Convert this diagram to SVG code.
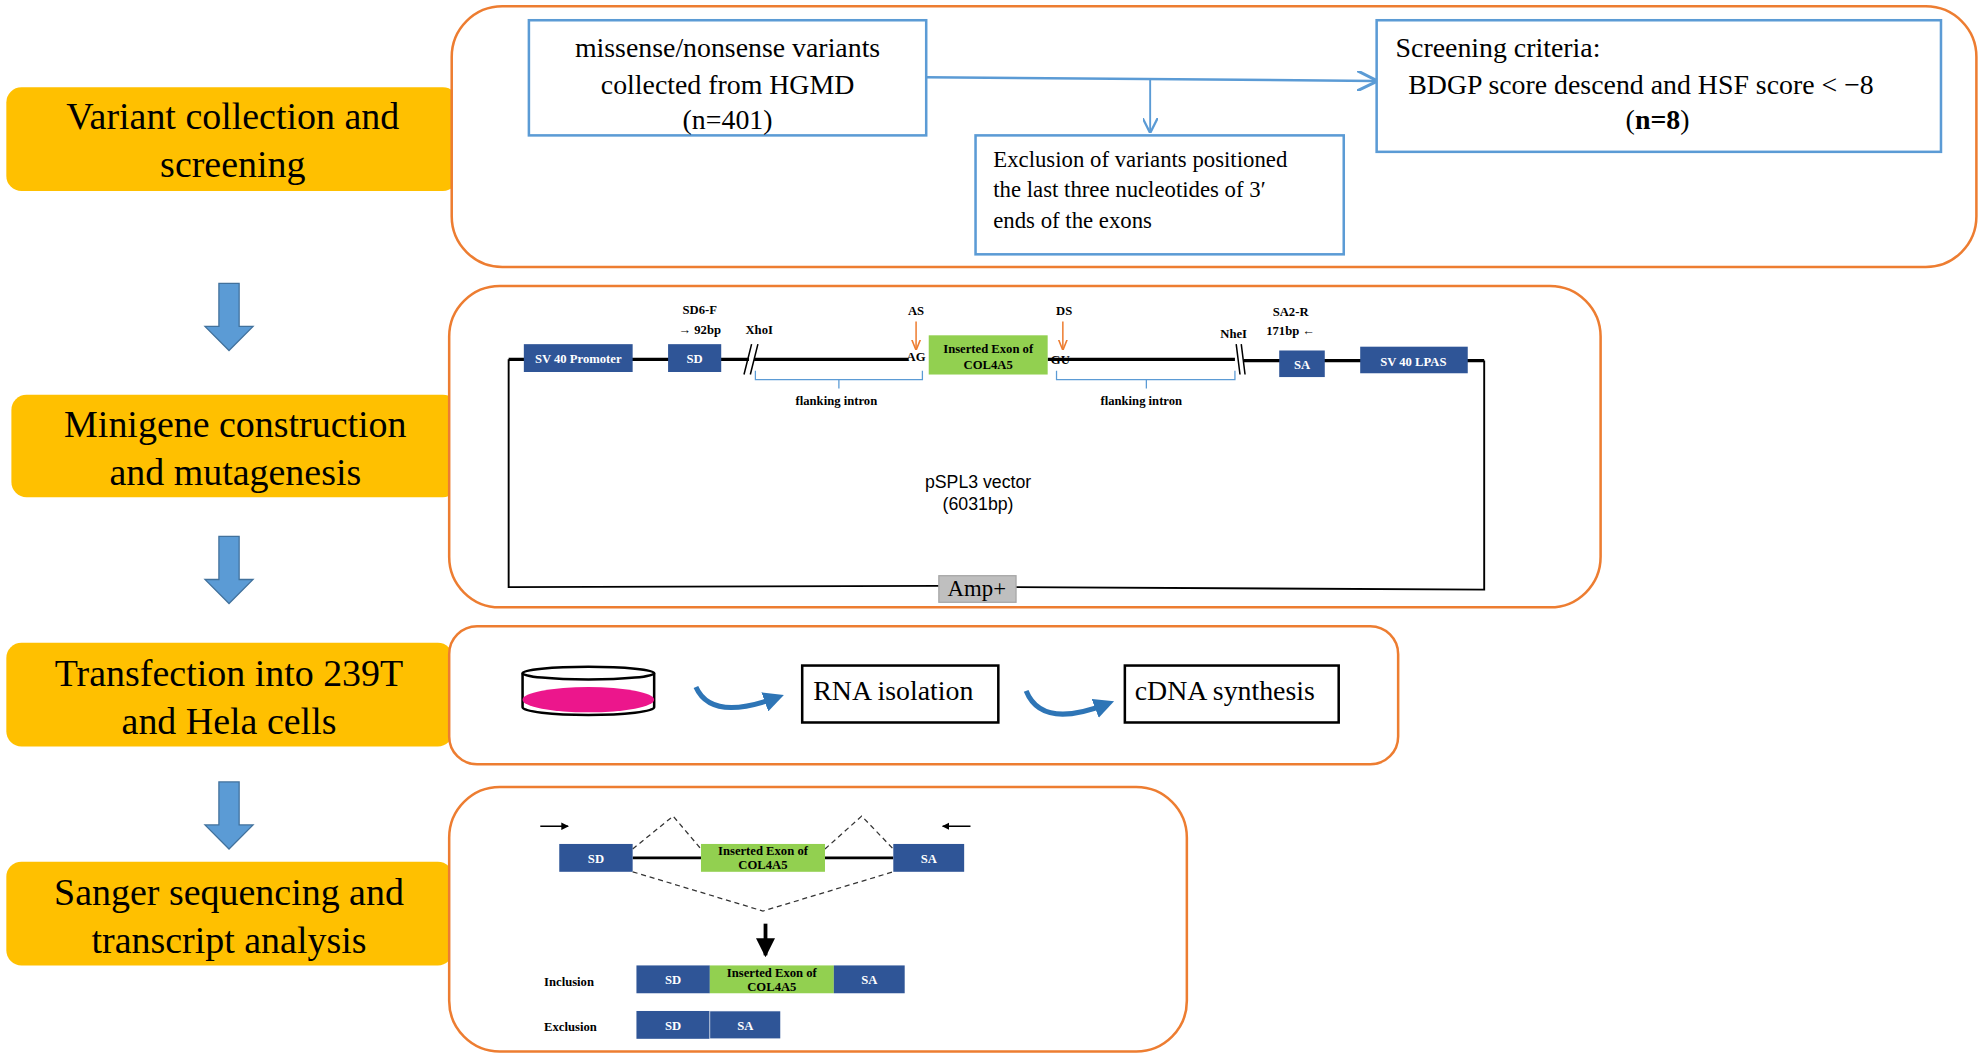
<svg xmlns="http://www.w3.org/2000/svg" width="1984" height="1059" viewBox="0 0 1984 1059">
<style>
.stage{fill:#FFC000}
.st{font-family:"Liberation Serif",serif;font-size:30px;fill:#000;text-anchor:middle}
.panel{fill:#fff;stroke:#ED7D31;stroke-width:2}
.bb{fill:#fff;stroke:#5B9BD5;stroke-width:2}
.t22{font-family:"Liberation Serif",serif;font-size:22px;fill:#000}
.t18{font-family:"Liberation Serif",serif;font-size:18px;fill:#000}
.sm{font-family:"Liberation Serif",serif;font-size:10px;font-weight:bold;fill:#000}
.smw{font-family:"Liberation Serif",serif;font-size:10px;font-weight:bold;fill:#fff;text-anchor:middle}
.navy{fill:#2F5597}
.grn{fill:#92D050}
.ln{stroke:#000;fill:none}
.mid{text-anchor:middle}
</style>
<defs>
<marker id="ba" viewBox="0 0 10 10" refX="9" refY="5" markerWidth="8" markerHeight="8" orient="auto"><path d="M0,0 L10,5 L0,10" fill="none" stroke="#5B9BD5" stroke-width="1.5"/></marker>
<marker id="oa" viewBox="0 0 10 10" refX="9" refY="5" markerWidth="7" markerHeight="7" orient="auto"><path d="M0,1 L10,5 L0,9" fill="none" stroke="#ED7D31" stroke-width="1.5"/></marker>
<marker id="ka" viewBox="0 0 10 10" refX="9" refY="5" markerWidth="5" markerHeight="5" orient="auto"><path d="M0,0 L10,5 L0,10 z" fill="#000"/></marker>
<marker id="ca" viewBox="0 0 10 10" refX="5" refY="5" markerWidth="4" markerHeight="4" orient="auto"><path d="M0,0 L10,5 L0,10 z" fill="#2E75B6"/></marker>
<path id="down" d="M-8,0 H8 V34 H19 L0,53 L-19,34 H-8 Z" fill="#5B9BD5" stroke="#41719C" stroke-width="1"/>
</defs>
<g transform="scale(1.2653)">
<g id="stages">
<g id="s1"><rect class="stage" x="5" y="69" width="357" height="82" rx="12"/><text class="st" x="184" y="102">Variant collection and</text><text class="st" x="184" y="140">screening</text></g>
<g id="s2"><rect class="stage" x="9" y="312" width="353" height="81" rx="12"/><text class="st" x="186" y="345">Minigene construction</text><text class="st" x="186" y="383">and mutagenesis</text></g>
<g id="s3"><rect class="stage" x="5" y="508" width="353" height="82" rx="12"/><text class="st" x="181" y="542">Transfection into 239T</text><text class="st" x="181" y="580">and Hela cells</text></g>
<g id="s4"><rect class="stage" x="5" y="681" width="353" height="82" rx="12"/><text class="st" x="181" y="715">Sanger sequencing and</text><text class="st" x="181" y="753">transcript analysis</text></g>
</g>
<g id="flow-arrows">
<use href="#down" x="181" y="224"/><use href="#down" x="181" y="424"/><use href="#down" x="181" y="618"/>
</g>
<g id="panelA">
<rect class="panel" x="357" y="5" width="1205" height="206" rx="40"/>
<g id="a1"><rect class="bb" x="418" y="16" width="314" height="91"/>
<text class="t22 mid" x="575" y="45">missense/nonsense variants</text><text class="t22 mid" x="575" y="74">collected from HGMD</text><text class="t22 mid" x="575" y="102">(n=401)</text></g>
<g id="a2"><rect class="bb" x="771" y="107" width="291" height="94"/>
<text class="t18" x="785" y="132">Exclusion of variants  positioned</text><text class="t18" x="785" y="156">the last three nucleotides of 3′</text><text class="t18" x="785" y="180">ends of the exons</text></g>
<g id="a3"><rect class="bb" x="1088" y="16" width="446" height="104"/>
<text class="t22" x="1103" y="45">Screening criteria:</text><text class="t22" x="1113" y="74">BDGP score descend and HSF score &lt; −8</text><text class="t22 mid" x="1310" y="102">(<tspan font-weight="bold">n=8</tspan>)</text></g>
<g id="a-conn" stroke="#5B9BD5" stroke-width="2" fill="none">
<line x1="732" y1="61" x2="1087" y2="64" marker-end="url(#ba)"/>
<line x1="909" y1="63" x2="909" y2="104" stroke-width="1.5" marker-end="url(#ba)"/>
</g>
</g>
<g id="panelB">
<rect class="panel" x="355" y="226" width="910" height="254" rx="40"/>
<path class="ln" d="M402,284 V464 L742,463 M803,464 L1173,466 V285" stroke-width="1.5"/>
<path class="ln" d="M402,284 H592 M596,284 H718 M828,284 H976 M983,285 H1173" stroke-width="2.5"/>
<path class="ln" d="M588,296 L594,272 M593,296 L599,272 M977,272 L980,296 M981,272 L984,296" stroke-width="1.2"/>
<rect x="742" y="455" width="61" height="21" fill="#BFBFBF" stroke="#A6A6A6"/>
<text class="t18 mid" x="772" y="471" font-size="13" fill="#333">Amp+</text>
<rect class="navy" x="414" y="272" width="86" height="22"/><text class="smw" x="457" y="287">SV 40 Promoter</text>
<rect class="navy" x="528" y="272" width="42" height="22"/><text class="smw" x="549" y="287">SD</text>
<rect class="navy" x="1011" y="277" width="36" height="21" /><text class="smw" x="1029" y="292">SA</text>
<rect class="navy" x="1075" y="274" width="85" height="21"/><text class="smw" x="1117" y="289">SV 40 LPAS</text>
<rect class="grn" x="734" y="265" width="94" height="31"/>
<text class="sm mid" x="781" y="279">Inserted Exon of</text><text class="sm mid" x="781" y="292">COL4A5</text>
<text class="sm mid" x="553" y="248">SD6-F</text><text class="sm mid" x="553" y="264">→ 92bp</text>
<text class="sm mid" x="600" y="264">XhoI</text>
<text class="sm mid" x="724" y="249">AS</text><text class="sm mid" x="841" y="249">DS</text>
<text class="sm mid" x="724" y="285">AG</text><text class="sm mid" x="838" y="288">GU</text>
<text class="sm mid" x="1020" y="250">SA2-R</text><text class="sm mid" x="1020" y="265">171bp ←</text>
<text class="sm mid" x="975" y="267">NheI</text>
<line x1="724" y1="254" x2="724" y2="276" stroke="#ED7D31" stroke-width="1.2" marker-end="url(#oa)"/>
<line x1="840" y1="254" x2="840" y2="276" stroke="#ED7D31" stroke-width="1.2" marker-end="url(#oa)"/>
<path d="M597,293 V300 H729 V293 M663,300 V307 M835,293 V300 H976 V293 M906,300 V307" fill="none" stroke="#5B9BD5" stroke-width="1"/>
<text class="sm mid" x="661" y="320">flanking intron</text><text class="sm mid" x="902" y="320">flanking intron</text>
<text x="773" y="386" font-family="Liberation Sans,sans-serif" font-size="14" text-anchor="middle">pSPL3  vector</text>
<text x="773" y="403" font-family="Liberation Sans,sans-serif" font-size="14" text-anchor="middle">(6031bp)</text>
</g>
<g id="panelC">
<rect class="panel" x="355" y="495" width="750" height="109" rx="22"/>
<g id="dish">
<path d="M413,532 V559 A52,6 0 0 0 517,559 V532" fill="#fff" stroke="#000" stroke-width="2"/>
<ellipse cx="465" cy="553" rx="52" ry="10" fill="#EC168C"/>
<ellipse cx="465" cy="532" rx="52" ry="5" fill="#fff" stroke="#000" stroke-width="2"/>
</g>
<path d="M550,543 Q562,570 612,552" fill="none" stroke="#2E75B6" stroke-width="4" marker-end="url(#ca)"/>
<path d="M811,546 Q823,576 873,557" fill="none" stroke="#2E75B6" stroke-width="4" marker-end="url(#ca)"/>
<g id="rna"><rect x="634" y="526" width="155" height="45" fill="#fff" stroke="#000" stroke-width="2"/><text class="t22 mid" x="706" y="553" font-size="20">RNA isolation</text></g>
<g id="cdna"><rect x="889" y="526" width="169" height="45" fill="#fff" stroke="#000" stroke-width="2"/><text class="t22 mid" x="968" y="553" font-size="20">cDNA synthesis</text></g>
</g>
<g id="panelD">
<rect class="panel" x="355" y="622" width="583" height="209" rx="40"/>
<path class="ln" d="M500,678 H554 M652,678 H706" stroke-width="2"/>
<path d="M500,671 L532,645 L554,671 M652,671 L681,645 L706,671 M500,689 L603,720 L706,689" fill="none" stroke="#333" stroke-width="1" stroke-dasharray="4,3"/>
<rect class="navy" x="442" y="667" width="58" height="22"/><text class="smw" x="471" y="682">SD</text>
<rect class="grn" x="554" y="667" width="98" height="22"/><text class="sm mid" x="603" y="676" font-size="9">Inserted Exon of</text><text class="sm mid" x="603" y="687" font-size="9">COL4A5</text>
<rect class="navy" x="706" y="667" width="56" height="22"/><text class="smw" x="734" y="682">SA</text>
<line x1="427" y1="653" x2="449" y2="653" stroke="#000" stroke-width="1.2" marker-end="url(#ka)"/>
<line x1="767" y1="653" x2="745" y2="653" stroke="#000" stroke-width="1.2" marker-end="url(#ka)"/>
<line x1="605" y1="730" x2="605" y2="755" stroke="#000" stroke-width="3" marker-end="url(#ka)"/>
<text class="sm" x="430" y="779">Inclusion</text>
<rect class="navy" x="503" y="763" width="58" height="22"/><text class="smw" x="532" y="778">SD</text>
<rect class="grn" x="561" y="763" width="98" height="22"/><text class="sm mid" x="610" y="772" font-size="9">Inserted Exon of</text><text class="sm mid" x="610" y="783" font-size="9">COL4A5</text>
<rect class="navy" x="659" y="763" width="56" height="22"/><text class="smw" x="687" y="778">SA</text>
<text class="sm" x="430" y="815">Exclusion</text>
<rect class="navy" x="503" y="799" width="58" height="22"/><text class="smw" x="532" y="814">SD</text>
<rect class="navy" x="561" y="799" width="56" height="22" stroke="#fff" stroke-width="0.5"/><text class="smw" x="589" y="814">SA</text>
</g>
</g>
</svg>
